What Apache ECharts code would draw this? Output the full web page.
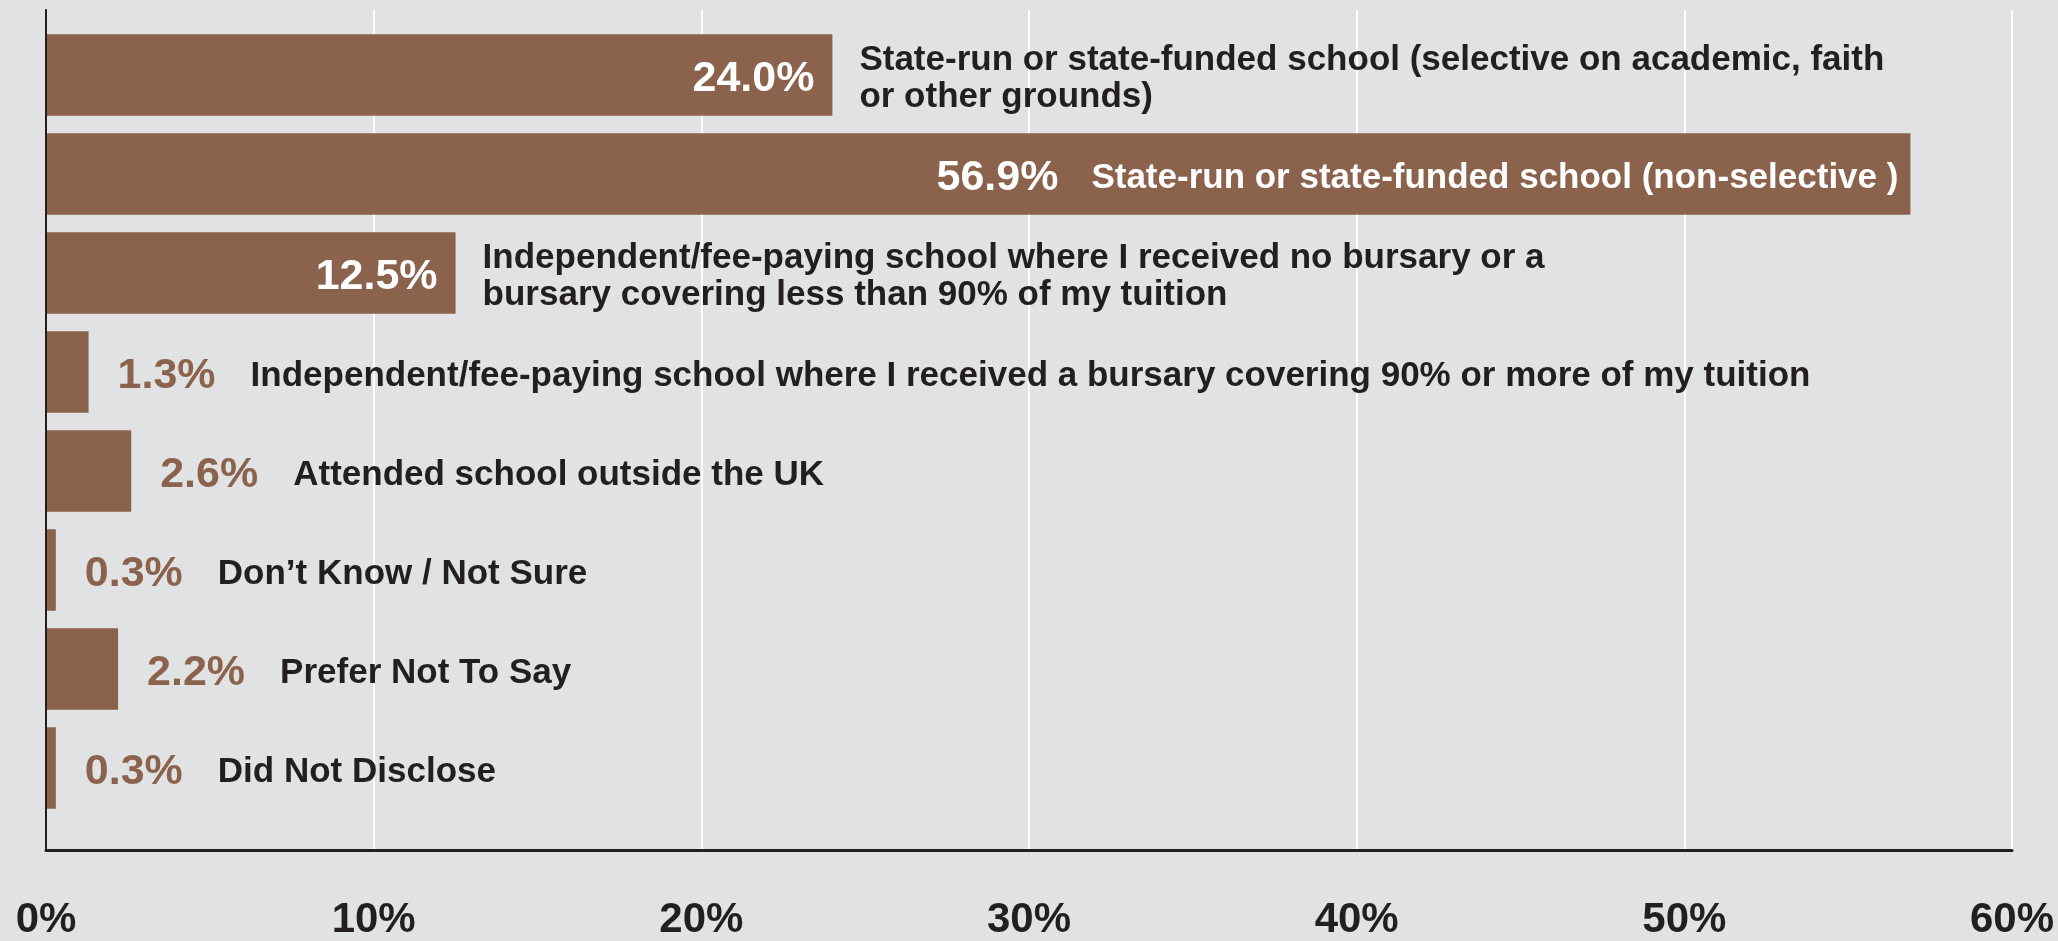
<!DOCTYPE html>
<html>
<head>
<meta charset="utf-8">
<script src="https://cdn.jsdelivr.net/npm/echarts@6/dist/echarts.min.js"></script>
<style>
  html, body { margin: 0; padding: 0; background: #e1e2e4; }
  #chart { width: 2058px; height: 941px; }
</style>
</head>
<body>
<div id="chart"></div>
<script>
// School type attended before university (share of respondents, %)
const categories = [
  'State-run or state-funded school (selective on academic, faith\nor other grounds)',
  'State-run or state-funded school (non-selective )',
  'Independent/fee-paying school where I received no bursary or a\nbursary covering less than 90% of my tuition',
  'Independent/fee-paying school where I received a bursary covering 90% or more of my tuition',
  'Attended school outside the UK',
  'Don\u2019t Know / Not Sure',
  'Prefer Not To Say',
  'Did Not Disclose'
];
const shares = [24.0, 56.9, 12.5, 1.3, 2.6, 0.3, 2.2, 0.3];
const tickValues = [0, 10, 20, 30, 40, 50, 60];
const tickLabels = ['0%', '10%', '20%', '30%', '40%', '50%', '60%'];

const FONT = '"Liberation Sans", Arial, sans-serif';
const BAR = '#8b634d';
const INK = '#231f20';
const BG = '#e1e2e4';
const NAME_SIZE = 35;
const VALUE_SIZE = 43;
const NUDGE = [0, 4];

const pct = v => v.toFixed(1) + '%';

// Long bars carry their value inside; the widest bar also carries its name inside.
function mainLabel(v, i) {
  const name = categories[i];
  if (v >= 50) {
    return {
      show: true, position: 'insideRight', distance: 12, offset: NUDGE,
      formatter: '{v|' + pct(v) + '}{c|' + name + '}',
      rich: {
        v: { color: '#ffffff', fontSize: VALUE_SIZE, fontWeight: 'bold', fontFamily: FONT, padding: [0, 33, 0, 0] },
        c: { color: '#ffffff', fontSize: NAME_SIZE, fontWeight: 'bold', fontFamily: FONT }
      }
    };
  }
  if (v >= 10) {
    return {
      show: true, position: 'insideRight', distance: 18, offset: NUDGE,
      formatter: '{v|' + pct(v) + '}',
      rich: { v: { color: '#ffffff', fontSize: VALUE_SIZE, fontWeight: 'bold', fontFamily: FONT } }
    };
  }
  return {
    show: true, position: 'right', distance: 29, offset: NUDGE,
    formatter: '{v|' + pct(v) + '}{c|' + name + '}',
    rich: {
      v: { color: BAR, fontSize: VALUE_SIZE, fontWeight: 'bold', fontFamily: FONT, padding: [0, 35, 0, 0] },
      c: { color: INK, fontSize: NAME_SIZE, fontWeight: 'bold', fontFamily: FONT }
    }
  };
}

// Names of the mid-sized bars sit just past the bar end.
function outerLabel(v, i) {
  const show = v >= 10 && v < 50;
  return {
    show: show, position: 'right', distance: 27, offset: NUDGE,
    formatter: () => categories[i],
    color: INK, fontSize: NAME_SIZE, lineHeight: 37, fontWeight: 'bold', fontFamily: FONT
  };
}

const chart = echarts.init(document.getElementById('chart'), null, { renderer: 'canvas' });

chart.setOption({
  backgroundColor: BG,
  animation: false,
  grid: [
    { left: 46, right: 46, top: 10, bottom: 82 },      // frame: gridlines and axes
    { left: 46, right: 46, top: 25.5, height: 792 }    // bars
  ],
  xAxis: [
    {
      gridIndex: 0, type: 'value', min: 0, max: 60, interval: 10,
      axisLine: { show: true, lineStyle: { color: INK, width: 3 } },
      axisTick: { show: false },
      splitLine: { show: true, lineStyle: { color: '#ffffff', width: 2 } },
      axisLabel: {
        margin: 49, color: INK, fontSize: 42, fontWeight: 'bold', fontFamily: FONT,
        formatter: v => tickLabels[tickValues.indexOf(v)]
      }
    },
    { gridIndex: 1, type: 'value', min: 0, max: 60, show: false }
  ],
  yAxis: [
    {
      gridIndex: 0, type: 'value', min: 0, max: 1, z: 5,
      axisLine: { show: true, lineStyle: { color: INK, width: 2 } },
      axisTick: { show: false }, axisLabel: { show: false }, splitLine: { show: false }
    },
    { gridIndex: 1, type: 'category', data: categories, inverse: true, show: false }
  ],
  series: [
    {
      type: 'bar', xAxisIndex: 1, yAxisIndex: 1,
      barWidth: 81.5, barGap: '-100%',
      itemStyle: { color: BAR },
      data: shares.map((v, i) => ({ value: v, label: mainLabel(v, i) }))
    },
    {
      type: 'bar', xAxisIndex: 1, yAxisIndex: 1, silent: true,
      barWidth: 81.5, barGap: '-100%',
      itemStyle: { color: 'rgba(0,0,0,0)' },
      data: shares.map((v, i) => ({ value: v, label: outerLabel(v, i) }))
    }
  ]
});
</script>
</body>
</html>
